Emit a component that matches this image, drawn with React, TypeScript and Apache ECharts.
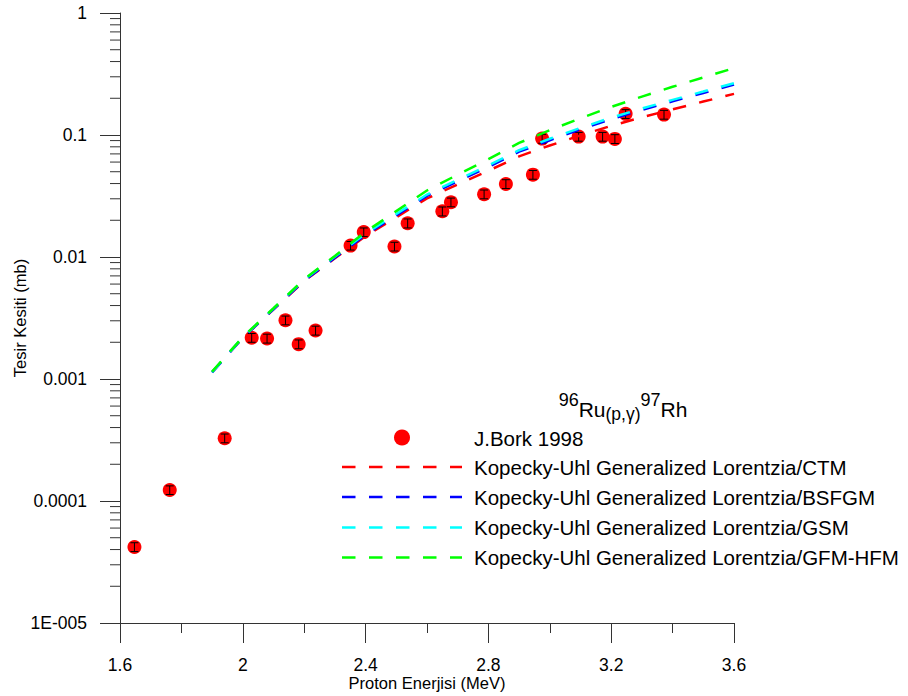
import React, { useEffect, useRef } from 'react';
import * as echarts from 'echarts';

// Experimental data: J.Bork 1998
const energies = [1.647, 1.762, 1.941, 2.029, 2.079, 2.139, 2.182, 2.237, 2.351, 2.394, 2.494, 2.537, 2.650, 2.678, 2.786, 2.857, 2.945, 2.975, 3.094, 3.172, 3.212, 3.247, 3.372];
const borkValues = [4.2e-5, 1.23e-4, 3.27e-4, 2.18e-3, 2.15e-3, 3.03e-3, 1.93e-3, 2.5e-3, 0.0124, 0.0160, 0.0122, 0.0189, 0.0237, 0.0281, 0.0327, 0.0397, 0.0473, 0.0934, 0.097, 0.097, 0.0929, 0.149, 0.147];
const borkErrors = [3.5e-6, 1.0e-5, 2.7e-5, 1.8e-4, 1.8e-4, 2.5e-4, 1.6e-4, 2.1e-4, 0.0010, 0.0013, 0.0010, 0.0016, 0.0020, 0.0023, 0.0027, 0.0033, 0.0039, 0.0078, 0.0080, 0.0080, 0.0077, 0.0124, 0.0122];

// Model curves
const modelEnergies = [1.9, 2.0, 2.1, 2.2, 2.3, 2.4, 2.5, 2.6, 2.7, 2.8, 2.9, 3.0, 3.1, 3.2, 3.3, 3.4, 3.5, 3.6];
const ctm = [0.00114, 0.00218, 0.00372, 0.00635, 0.00975, 0.01486, 0.02118, 0.0302, 0.03936, 0.05093, 0.06683, 0.08204, 0.09931, 0.1189, 0.1396, 0.1622, 0.1879, 0.2173];
const bsfgm = [0.00113, 0.00218, 0.00373, 0.0064, 0.00985, 0.0152, 0.02195, 0.03165, 0.0418, 0.05485, 0.073, 0.0906, 0.1112, 0.135, 0.1604, 0.1889, 0.2209, 0.259];
const gsm = [0.00114, 0.0022, 0.00378, 0.00653, 0.01009, 0.0156, 0.02254, 0.03251, 0.04295, 0.05636, 0.075, 0.0931, 0.1143, 0.1387, 0.1648, 0.1941, 0.227, 0.2661];
const gfmHfm = [0.00115, 0.00221, 0.0038, 0.00658, 0.01021, 0.01611, 0.02377, 0.03508, 0.04732, 0.06339, 0.0861, 0.1094, 0.1371, 0.1698, 0.2065, 0.2483, 0.2965, 0.3532];

const xTickLabels = ['1.6', '2', '2.4', '2.8', '3.2', '3.6'];
const yTickLabels = ['1E-005', '0.0001', '0.001', '0.01', '0.1', '1'];
const yDecades = [1e-5, 1e-4, 1e-3, 1e-2, 1e-1];
const yMinorMultipliers = [2, 3, 4, 5, 6, 7, 8, 9];

const dataLabel = 'J.Bork 1998';
const modelLabels = [
  'Kopecky-Uhl Generalized Lorentzia/CTM',
  'Kopecky-Uhl Generalized Lorentzia/BSFGM',
  'Kopecky-Uhl Generalized Lorentzia/GSM',
  'Kopecky-Uhl Generalized Lorentzia/GFM-HFM',
];
const modelColors = ['#ff0000', '#0000ff', '#00ffff', '#00ff00'];

const X_MIN = 1.6;
const X_MAX = 3.6;
const FONT = '"Liberation Sans", Arial, sans-serif';
const AXIS_COLOR = '#333333';
const DASH = [13.5, 13.5];

export default function App() {
  const ref = useRef<HTMLDivElement>(null);

  useEffect(() => {
    if (!ref.current) return;
    const chart = echarts.init(ref.current, null, { renderer: 'svg' });

    const modelSeries = [ctm, bsfgm, gsm, gfmHfm].map((vals, i) => ({
      name: modelLabels[i],
      type: 'line',
      data: modelEnergies.map((e, j) => [e, vals[j]]),
      showSymbol: false,
      symbol: 'none',
      lineStyle: { color: modelColors[i], width: 2.5, type: DASH },
      itemStyle: { color: modelColors[i] },
      z: 5 + i,
      silent: true,
    }));

    const minorTicks: number[][] = [];
    yDecades.forEach((d) => yMinorMultipliers.forEach((m) => minorTicks.push([X_MIN, d * m])));

    const legendRowsY = [467, 497, 527.5, 557.5];
    const graphic: any[] = [
      {
        type: 'text',
        x: 623,
        y: 409,
        style: {
          text: '{sup|96}{main|Ru}{sub|(p,γ)}{sup|97}{main|Rh}',
          align: 'center',
          verticalAlign: 'middle',
          fill: '#000',
          rich: {
            sup: { fontSize: 18, fontFamily: FONT, lineHeight: 20, verticalAlign: 'top', fill: '#000', padding: [2, 0, 0, 0] },
            main: { fontSize: 21, fontFamily: FONT, lineHeight: 40, verticalAlign: 'middle', fill: '#000' },
            sub: { fontSize: 17.5, fontFamily: FONT, lineHeight: 30, verticalAlign: 'bottom', fill: '#000', padding: [0, 0, 6, 0] },
          },
        },
      },
      {
        type: 'circle',
        shape: { cx: 402, cy: 437.5, r: 8 },
        style: { fill: '#ff0000' },
      },
      {
        type: 'text',
        x: 474,
        y: 438,
        style: { text: dataLabel, fontSize: 20.5, fontFamily: FONT, fill: '#000', verticalAlign: 'middle', align: 'left' },
      },
    ];
    modelLabels.forEach((lbl, i) => {
      graphic.push({
        type: 'line',
        shape: { x1: 342, y1: legendRowsY[i], x2: 462, y2: legendRowsY[i] },
        style: { stroke: modelColors[i], lineWidth: 2.5, lineDash: DASH },
      });
      graphic.push({
        type: 'text',
        x: 474,
        y: legendRowsY[i],
        style: { text: lbl, fontSize: 20.5, fontFamily: FONT, fill: '#000', verticalAlign: 'middle', align: 'left' },
      });
    });

    chart.setOption({
      animation: false,
      backgroundColor: '#ffffff',
      grid: { left: 120, right: 174, top: 13, bottom: 73, containLabel: false, outerBoundsMode: 'none' },
      xAxis: {
        type: 'value',
        min: X_MIN,
        max: X_MAX,
        interval: 0.4,
        name: 'Proton Enerjisi (MeV)',
        nameLocation: 'middle',
        nameGap: 51,
        nameMoveOverlap: false,
        nameTextStyle: { fontSize: 16.5, lineHeight: 17, fontFamily: FONT, color: '#000' },
        axisLine: { show: true, lineStyle: { color: AXIS_COLOR, width: 1 } },
        axisTick: { show: true, length: 20, inside: false, lineStyle: { color: AXIS_COLOR, width: 1 } },
        minorTick: { show: true, splitNumber: 2, length: 10, lineStyle: { color: AXIS_COLOR, width: 1 } },
        splitLine: { show: false },
        minorSplitLine: { show: false },
        axisLabel: {
          margin: 33,
          fontSize: 17.5,
          lineHeight: 17,
          fontFamily: FONT,
          color: '#000',
          formatter: (v: number) => {
            const idx = Math.round((v - X_MIN) / 0.4);
            return xTickLabels[idx] ?? '';
          },
        },
      },
      yAxis: {
        type: 'log',
        logBase: 10,
        min: 1e-5,
        max: 1,
        interval: 1,
        name: 'Tesir Kesiti (mb)',
        nameLocation: 'middle',
        nameGap: 92,
        nameMoveOverlap: false,
        nameTextStyle: { fontSize: 16.5, fontFamily: FONT, color: '#000' },
        axisLine: { show: true, lineStyle: { color: AXIS_COLOR, width: 1 } },
        axisTick: { show: true, length: 20, inside: false, lineStyle: { color: AXIS_COLOR, width: 1 } },
        minorTick: { show: false },
        splitLine: { show: false },
        axisLabel: {
          margin: 33,
          fontSize: 17.5,
          fontFamily: FONT,
          color: '#000',
          formatter: (v: number) => {
            const idx = Math.round(Math.log10(v)) + 5;
            return yTickLabels[idx] ?? '';
          },
        },
      },
      series: [
        {
          name: 'yMinorTicks',
          type: 'custom',
          clip: false,
          silent: true,
          data: minorTicks,
          encode: { x: 0, y: 1 },
          renderItem: (params: any, api: any) => {
            const p = api.coord([api.value(0), api.value(1)]);
            return {
              type: 'line',
              shape: { x1: p[0] - 10, y1: p[1], x2: p[0], y2: p[1] },
              style: { stroke: AXIS_COLOR, lineWidth: 1 },
            };
          },
          z: 1,
        },
        {
          name: dataLabel,
          type: 'scatter',
          data: energies.map((e, i) => [e, borkValues[i]]),
          symbol: 'circle',
          symbolSize: 14,
          itemStyle: { color: '#ff0000', opacity: 1 },
          z: 2,
          silent: true,
        },
        {
          name: 'errors',
          type: 'custom',
          silent: true,
          data: energies.map((e, i) => [e, borkValues[i], borkErrors[i]]),
          encode: { x: 0, y: 1 },
          renderItem: (params: any, api: any) => {
            const x = api.value(0);
            const y = api.value(1);
            const err = api.value(2);
            const top = api.coord([x, y + err]);
            const bot = api.coord([x, y - err]);
            const hw = 4;
            const st = { stroke: '#000', lineWidth: 1 };
            return {
              type: 'group',
              children: [
                { type: 'line', shape: { x1: top[0], y1: top[1], x2: bot[0], y2: bot[1] }, style: st },
                { type: 'line', shape: { x1: top[0] - hw, y1: top[1], x2: top[0] + hw, y2: top[1] }, style: st },
                { type: 'line', shape: { x1: bot[0] - hw, y1: bot[1], x2: bot[0] + hw, y2: bot[1] }, style: st },
              ],
            };
          },
          z: 3,
        },
        ...modelSeries,
      ],
      graphic,
    });

    return () => chart.dispose();
  }, []);

  return (
    <div
      ref={ref}
      style={{ position: 'fixed', left: 0, top: 0, width: 908, height: 696, background: '#fff' }}
    />
  );
}
